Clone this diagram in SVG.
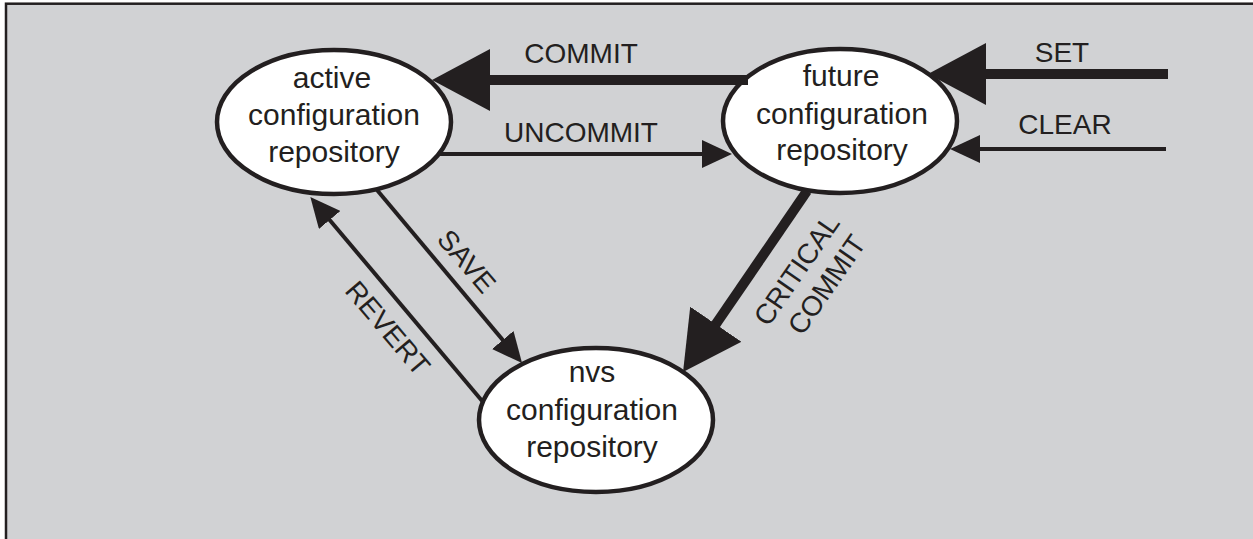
<svg xmlns="http://www.w3.org/2000/svg" width="1253" height="539" viewBox="0 0 1253 539">
<style>
.node{fill:#ffffff;stroke:#231f20;stroke-width:4.5}
.nt{font-family:"Liberation Sans",Arial,sans-serif;font-size:30px;fill:#231f20;text-anchor:middle}
.lb{font-family:"Liberation Sans",Arial,sans-serif;font-size:28px;fill:#231f20;text-anchor:middle}
.thick{stroke:#231f20;stroke-width:10;fill:none}
.thin{stroke:#231f20;stroke-width:4;fill:none}
</style>
<defs>
<marker id="big" viewBox="0 0 58 62" refX="28" refY="31" markerWidth="58" markerHeight="62" markerUnits="userSpaceOnUse" orient="auto">
<path d="M0,0 L58,31 L0,62 Z" fill="#231f20"/>
</marker>
<marker id="small" viewBox="0 0 30 28" refX="15" refY="14" markerWidth="30" markerHeight="28" markerUnits="userSpaceOnUse" orient="auto">
<path d="M0,0 L30,14 L0,28 Z" fill="#231f20"/>
</marker>
</defs>
<rect x="0" y="0" width="1253" height="539" fill="#ffffff"/>
<rect x="6" y="3.7" width="1260" height="560" fill="#d1d2d4" stroke="#231f20" stroke-width="2.5"/>

<g id="active">
<ellipse class="node" cx="334" cy="122" rx="117" ry="72"/>
<text class="nt" x="332" y="88">active</text>
<text class="nt" x="334" y="125">configuration</text>
<text class="nt" x="334" y="162">repository</text>
</g>
<g id="future">
<ellipse class="node" cx="840" cy="121" rx="117" ry="72"/>
<text class="nt" x="841" y="86">future</text>
<text class="nt" x="842" y="124">configuration</text>
<text class="nt" x="842" y="160">repository</text>
</g>
<g id="nvs">
<ellipse class="node" cx="596" cy="420" rx="117" ry="72"/>
<text class="nt" x="592" y="382">nvs</text>
<text class="nt" x="592" y="420">configuration</text>
<text class="nt" x="592" y="457">repository</text>
</g>

<g id="connectors">
<line class="thick" x1="748" y1="80" x2="462" y2="80" marker-end="url(#big)"/>
<text class="lb" x="581" y="63">COMMIT</text>
<line class="thin" x1="440" y1="154" x2="717" y2="154" marker-end="url(#small)"/>
<text class="lb" x="581" y="142">UNCOMMIT</text>
<line class="thick" x1="1168" y1="74" x2="958" y2="74" marker-end="url(#big)"/>
<text class="lb" x="1062" y="62">SET</text>
<line class="thin" x1="1166" y1="149" x2="965" y2="149" marker-end="url(#small)"/>
<text class="lb" x="1065" y="134">CLEAR</text>
<line class="thin" x1="377" y1="190" x2="512.4" y2="351.5" marker-end="url(#small)"/>
<text class="lb" transform="translate(467,261) rotate(49.5)" x="0" y="10">SAVE</text>
<line class="thin" x1="483" y1="402" x2="320" y2="208.5" marker-end="url(#small)"/>
<text class="lb" transform="translate(388,328) rotate(49.7)" x="0" y="10">REVERT</text>
<line class="thick" x1="807" y1="191" x2="700" y2="347.3" marker-end="url(#big)"/>
<g transform="translate(811,277.5) rotate(-55.3)">
<text class="lb" x="-2" y="-6.6">CRITICAL</text>
<text class="lb" x="3" y="26.6">COMMIT</text>
</g>
</g>
</svg>
